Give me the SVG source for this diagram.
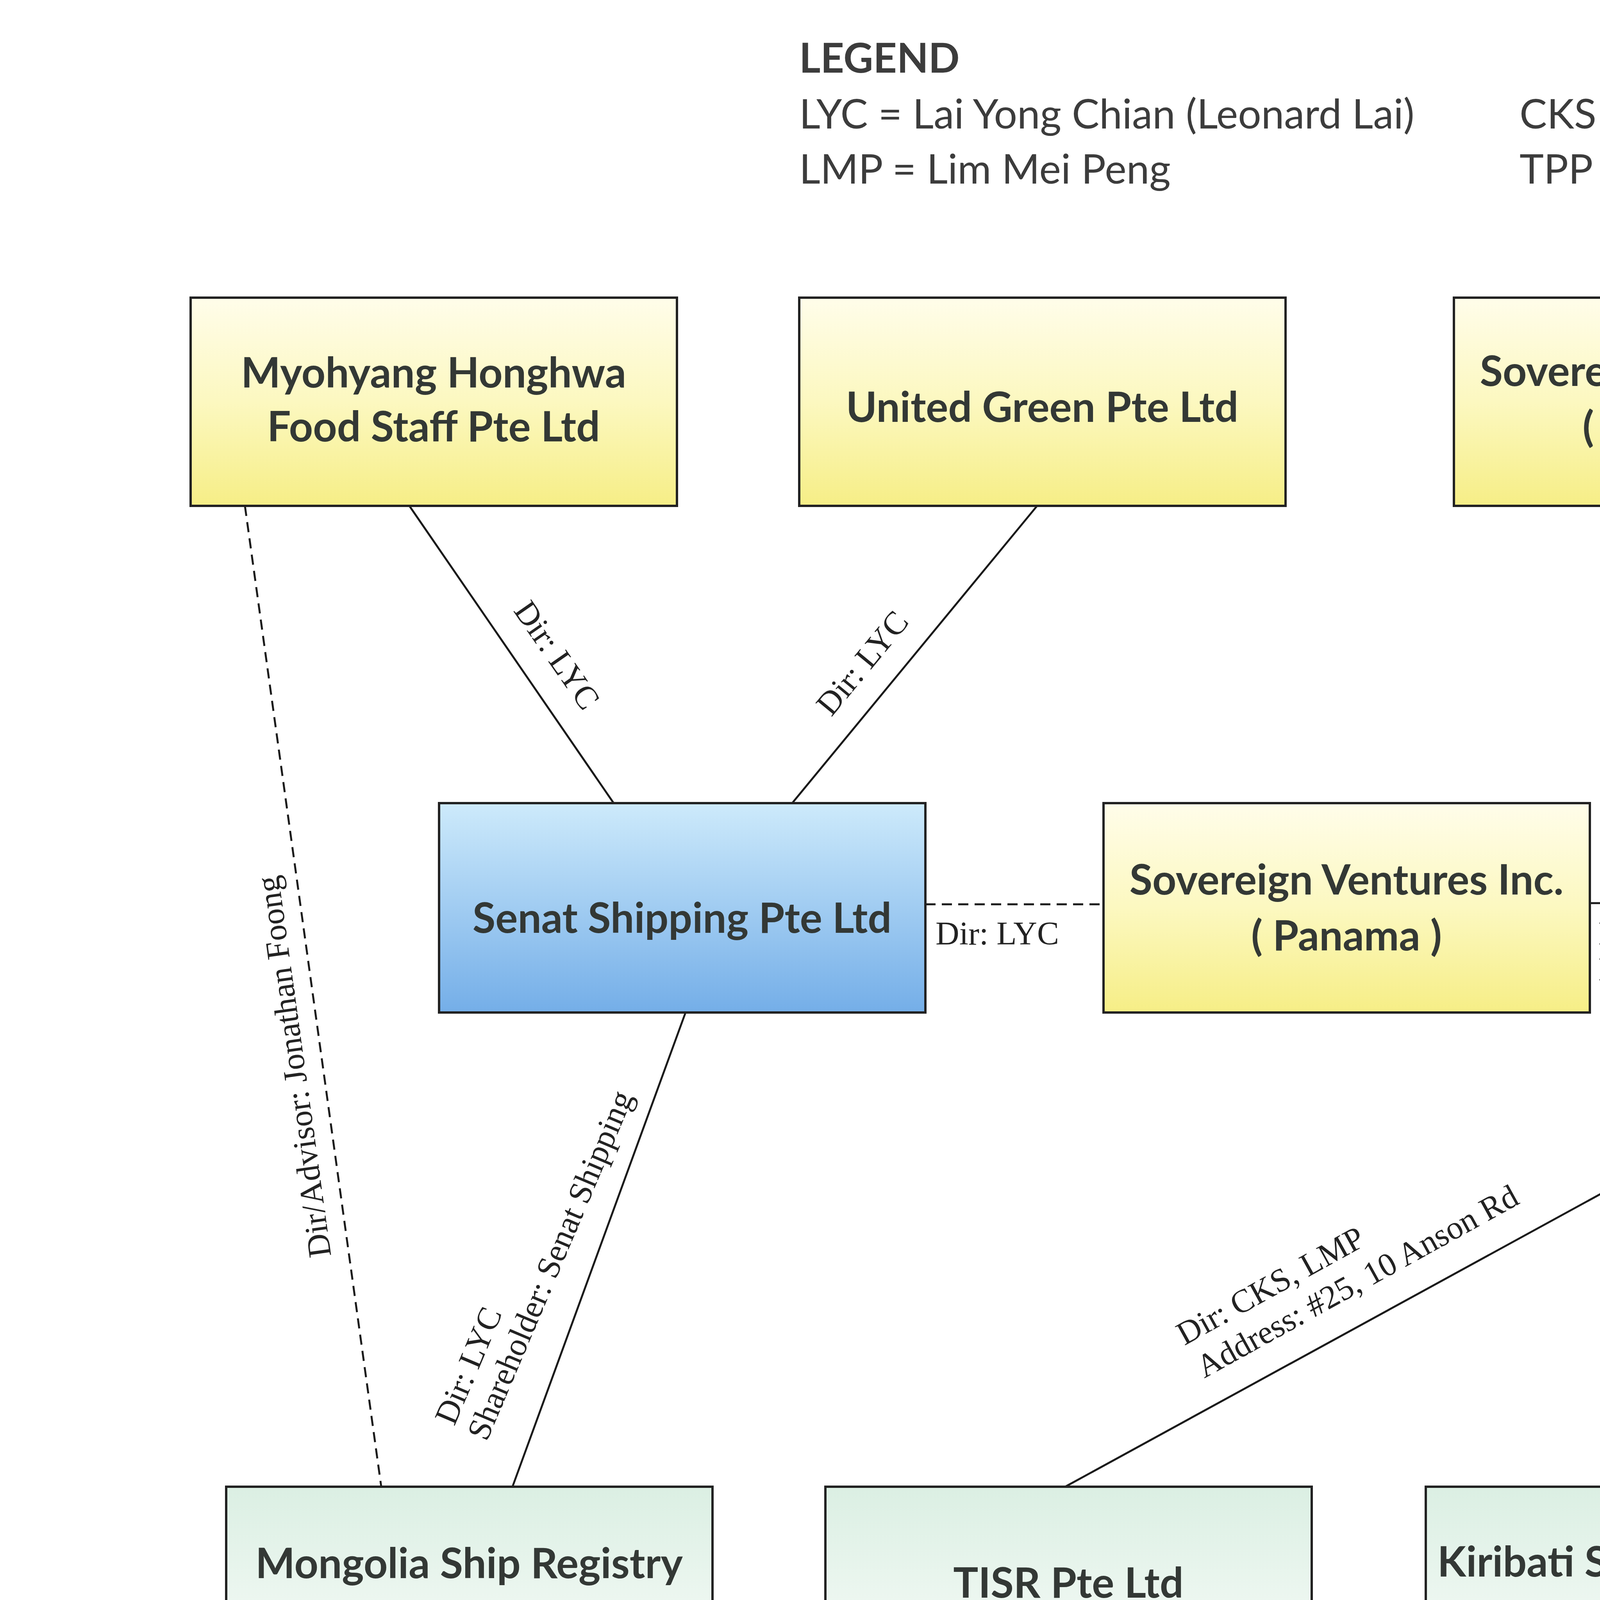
<svg xmlns="http://www.w3.org/2000/svg" width="7016" height="4961" viewBox="0 0 7016 4961">
<defs>
<linearGradient id="gy" x1="0" y1="0" x2="0" y2="1">
<stop offset="0" stop-color="#fffdea"/>
<stop offset="0.5" stop-color="#fcf8c0"/>
<stop offset="1" stop-color="#f6ee86"/>
</linearGradient>
<linearGradient id="gb" x1="0" y1="0" x2="0" y2="1">
<stop offset="0" stop-color="#cdeafb"/>
<stop offset="1" stop-color="#74aee8"/>
</linearGradient>
<linearGradient id="gg" x1="0" y1="0" x2="0" y2="1">
<stop offset="0" stop-color="#dbefe3"/>
<stop offset="1" stop-color="#fbfdfb"/>
</linearGradient>
<style>
.box{stroke:#222;stroke-width:6}
.nt{font-family:Lato,"Liberation Sans",sans-serif;font-weight:bold;font-size:107px;fill:#333835;text-anchor:middle}
.lg{font-family:Lato,"Liberation Sans",sans-serif;font-size:105px;fill:#3c3c3c}
.lgb{font-family:Lato,"Liberation Sans",sans-serif;font-size:105px;font-weight:bold;fill:#3c3c3c}
.cl{font-family:"Liberation Serif","Times New Roman",serif;font-size:84px;fill:#222}
.ln{stroke:#1a1a1a;stroke-width:5;fill:none}
.dl{stroke:#1a1a1a;stroke-width:5;fill:none;stroke-dasharray:26 16}
</style>
</defs>
<rect width="7016" height="4961" fill="#ffffff"/>
<g id="legend">
<text class="lgb" x="2046" y="186">LEGEND</text>
<text class="lg" x="2046" y="329">LYC = Lai Yong Chian (Leonard Lai)</text>
<text class="lg" x="2046" y="470">LMP = Lim Mei Peng</text>
<text class="lg" x="3890" y="329">CKS = Chong Koy Sen</text>
<text class="lg" x="3890" y="470">TPP = Tan Peng Peng</text>
</g>

<g id="connectors">
<line class="ln" x1="1048" y1="1295" x2="1571" y2="2056"/>
<line class="ln" x1="2655" y1="1295" x2="2028" y2="2056"/>
<line class="ln" x1="4329" y1="1295" x2="4947" y2="2056"/>
<line class="ln" x1="5914" y1="1295" x2="5457" y2="2056"/>
<line class="dl" x1="2369" y1="2315" x2="2825" y2="2315"/>
<line class="dl" x1="4070" y1="2312" x2="4549" y2="2312"/>
<line class="dl" x1="627" y1="1295" x2="976" y2="3806"/>
<line class="ln" x1="1755" y1="2592" x2="1312" y2="3806"/>
<line class="ln" x1="4947" y1="2592" x2="2727" y2="3806"/>
<line class="ln" x1="5180" y1="2592" x2="4334" y2="3806"/>
<line class="ln" x1="5395" y1="2592" x2="5798" y2="3806"/>

<text class="cl" text-anchor="middle" transform="translate(1403,1693) rotate(55.3)">Dir: LYC</text>
<text class="cl" text-anchor="middle" transform="translate(2229,1715) rotate(-50.4)">Dir: LYC</text>
<text class="cl" text-anchor="middle" transform="translate(4683,1621) rotate(50.8)">Dir: CKS, LMP</text>
<text class="cl" text-anchor="middle" transform="translate(5598,1693) rotate(-58.9)">Dir: CKS, LMP</text>
<text class="cl" x="2395" y="2418">Dir: LYC</text>
<text class="cl" x="4092" y="2418">Dir: CKS,</text>
<text class="cl" x="4092" y="2510">LMP</text>
<text class="cl" text-anchor="middle" transform="translate(780,2727) rotate(-97.9)">Dir/Advisor: Jonathan Foong</text>
<g transform="translate(1246,3692) rotate(-67)">
<text class="cl" x="4" y="-92">Dir: LYC</text>
<text class="cl" x="0" y="0">Shareholder: Senat Shipping</text>
</g>
<g transform="translate(3083,3529) rotate(-29)">
<text class="cl" x="-4" y="-98">Dir: CKS, LMP</text>
<text class="cl" x="0" y="0">Address: #25, 10 Anson Rd</text>
</g>
<g transform="translate(4310,3699) rotate(-54)">
<text class="cl" x="-3" y="-100">Sec: TPP</text>
<text class="cl" x="0" y="0">Address: #25, 10 Anson Rd</text>
</g>
<g transform="translate(5700,3640) rotate(-109.6)">
<text class="cl" x="-3" y="-102">Sec: TPP</text>
<text class="cl" x="0" y="0">Address: #25, 10 Anson Rd</text>
</g>
</g>

<g id="myohyang">
<rect class="box" x="488" y="762" width="1245" height="533" fill="url(#gy)"/>
<text class="nt" x="1110" y="992">Myohyang Honghwa</text>
<text class="nt" x="1110" y="1130">Food Staff Pte Ltd</text>
</g>
<g id="united-green">
<rect class="box" x="2046" y="762" width="1245" height="533" fill="url(#gy)"/>
<text class="nt" x="2668" y="1080">United Green Pte Ltd</text>
</g>
<g id="sovereign-singapore">
<rect class="box" x="3722" y="762" width="1245" height="533" fill="url(#gy)"/>
<text class="nt" x="4344" y="988">Sovereign Ventures Inc.</text>
<text class="nt" x="4344" y="1130">( Singapore )</text>
</g>
<g id="korasia-panama">
<rect class="box" x="5305" y="762" width="1245" height="533" fill="url(#gy)"/>
<text class="nt" x="5927" y="1077">Korasia (Panama)</text>
</g>
<g id="senat">
<rect class="box" x="1124" y="2056" width="1245" height="536" fill="url(#gb)"/>
<text class="nt" x="1746" y="2388">Senat Shipping Pte Ltd</text>
</g>
<g id="sovereign-panama">
<rect class="box" x="2825" y="2056" width="1245" height="536" fill="url(#gy)"/>
<text class="nt" x="3447" y="2290">Sovereign Ventures Inc.</text>
<text class="nt" x="3447" y="2433">( Panama )</text>
</g>
<g id="korasia-singapore">
<rect class="box" x="4549" y="2056" width="1245" height="536" fill="url(#gb)"/>
<text class="nt" x="5171" y="2384">Korasia (Singapore)</text>
</g>
<g id="mongolia">
<rect class="box" x="579" y="3806" width="1245" height="536" fill="url(#gg)"/>
<text class="nt" x="1201" y="4040">Mongolia Ship Registry</text>
<text class="nt" x="1201" y="4179">Pte Ltd</text>
</g>
<g id="tisr">
<rect class="box" x="2113" y="3806" width="1245" height="536" fill="url(#gg)"/>
<text class="nt" x="2735" y="4090">TISR Pte Ltd</text>
</g>
<g id="kiribati">
<rect class="box" x="3650" y="3806" width="1245" height="536" fill="url(#gg)"/>
<text class="nt" x="4272" y="4036">Kiribati Ship Registry Pte</text>
<text class="nt" x="4272" y="4175">Ltd</text>
</g>
<g id="niue">
<rect class="box" x="5162" y="3806" width="1245" height="536" fill="url(#gg)"/>
<text class="nt" x="5784" y="4036">Niue Ship Registry Pte</text>
<text class="nt" x="5784" y="4175">Ltd</text>
</g>
</svg>
